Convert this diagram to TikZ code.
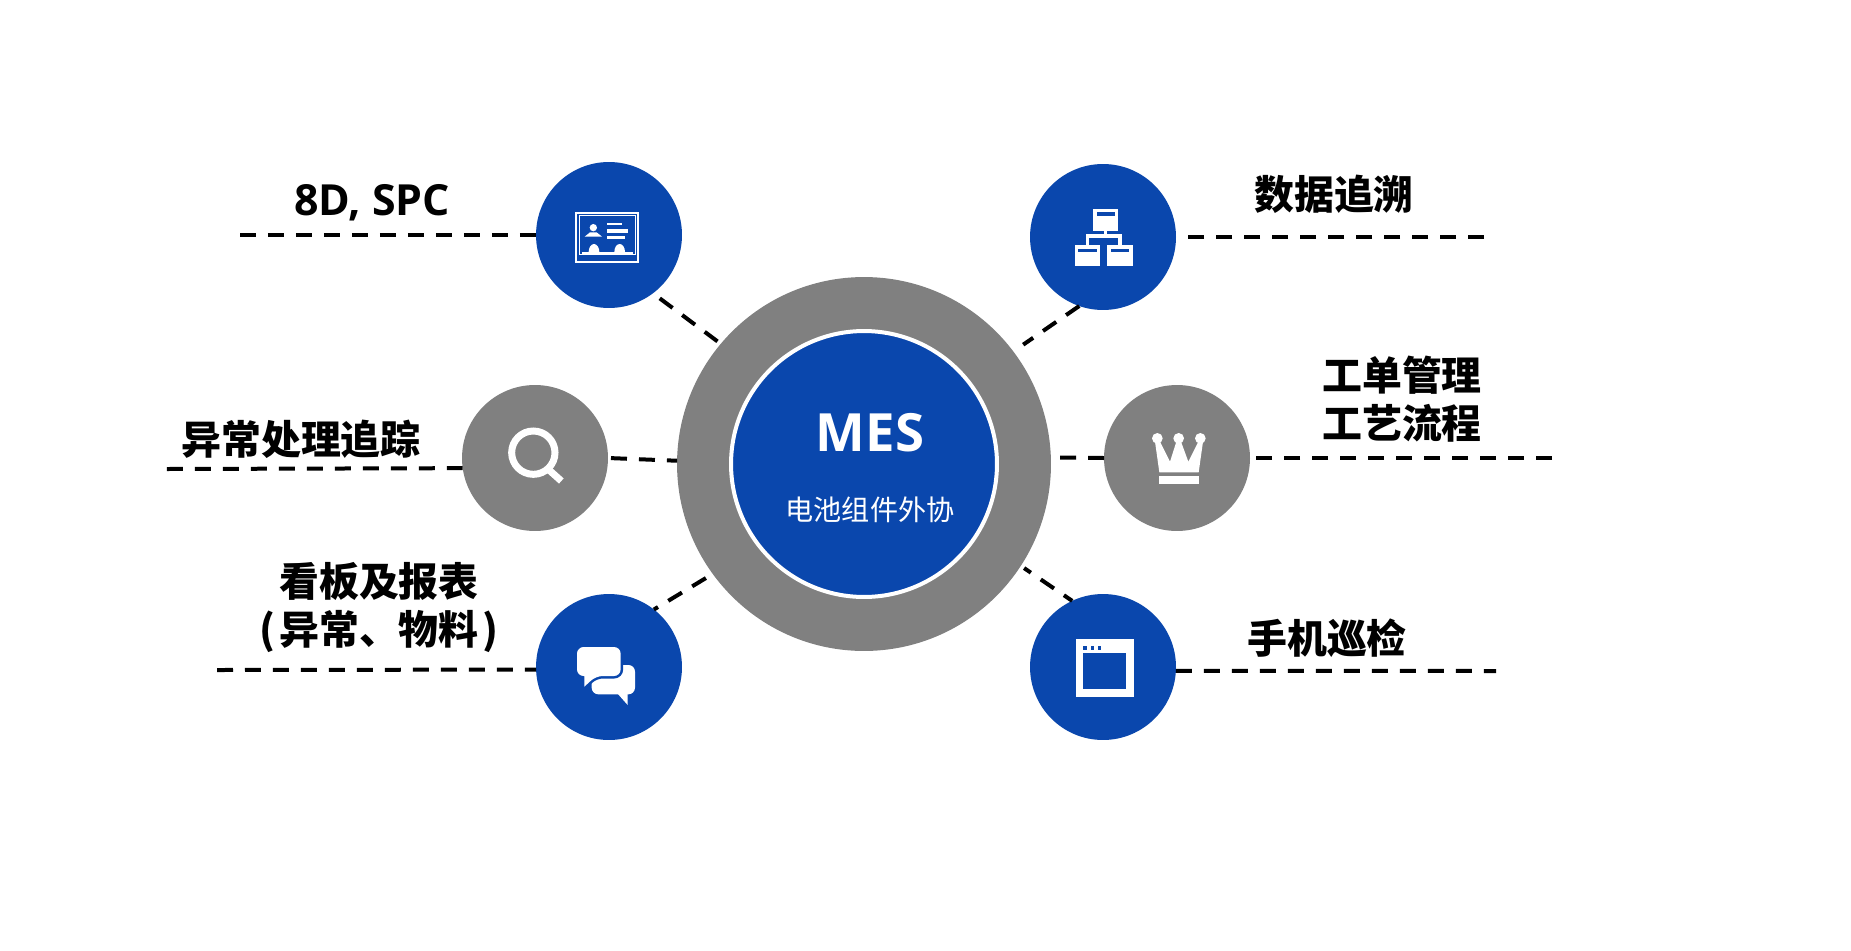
\documentclass[tikz,border=0pt]{standalone}
\usepackage{fontspec}
\newfontfamily\cjkfont{Noto Sans CJK SC}
\newfontfamily\latinfont{Open Sans}
\definecolor{mesblue}{HTML}{0A47AD}
\definecolor{mesgray}{HTML}{808080}
\begin{document}
\begin{tikzpicture}[x=0.02cm,y=-0.02cm,
	disc/.style={circle,inner sep=0pt,outer sep=0pt,minimum size=2.92cm},
	dashline/.style={line width=0.08cm,dash pattern=on 0.32cm off 0.24cm},
	title/.style={font=\fontsize{22.7}{27.3}\selectfont\cjkfont\bfseries,align=center,text=black},
	crop/.style={shift={#1},x=0.02cm/3,y=-0.02cm/3,fill=white}]
	  \useasboundingbox (0,0) rectangle (1851,950);
	  \fill[white] (0,0) rectangle (1851,950);
	  \node[circle,fill=mesgray,inner sep=0pt,outer sep=0pt,minimum size=7.48cm] (ring) at (864,464) {};
	  \node[circle,fill=mesblue,draw=white,line width=0.08cm,inner sep=0pt,outer sep=0pt,minimum size=5.32cm] (hub) at (864,464) {};
	  \node[disc,fill=mesblue] (card) at (609,235) {};
	  \node[disc,fill=mesblue] (org) at (1103,237) {};
	  \node[disc,fill=mesgray] (search) at (535,458) {};
	  \node[disc,fill=mesgray] (crown) at (1177,458) {};
	  \node[disc,fill=mesblue] (chat) at (609,667) {};
	  \node[disc,fill=mesblue] (window) at (1103,667) {};
	  \coordinate (cardend) at (240,235);
	  \coordinate (orgend) at (1484,237);
	  \coordinate (searchend) at (166.8,469);
	  \coordinate (crownend) at (1552,458);
	  \coordinate (chatend) at (217,670);
	  \coordinate (windowend) at (1496,671);
	  \draw[dashline] (cardend) -- (card.west);
	  \draw[dashline,shorten >=0.04cm] (orgend) -- (org.east);
	  \draw[dashline] (searchend) -- (search.188.67);
	  \draw[dashline] (crownend) -- (crown.east);
	  \draw[dashline] (chatend) -- (chat.182.36);
	  \draw[dashline] (window.-3.14) -- (windowend);
	  \draw[dashline,shorten <=0.17cm,shorten >=0.08cm] (card.-53.3) -- (ring.140.3);
	  \draw[dashline,shorten >=0.24cm] (org.-109) -- (ring.37.2);
	  \draw[dashline,shorten <=0.06cm] (search.0) -- (ring.179);
	  \draw[dashline,shorten >=0.14cm] (crown.west) -- (ring.2);
	  \draw[dashline,shorten <=0.16cm] (ring.-144) -- (chat.52.8);
	  \draw[dashline,dash phase=0.12cm,shorten >=0.08cm] (window.115.5) -- (ring.-33.7);
	  \node[title,font=\fontsize{24.4}{27.3}\selectfont\latinfont\bfseries] (cardlabel) at (372,203) {8D, SPC};
	  \node[title] (orglabel) at (1334,194) {数据追溯};
	  \node[title] (searchlabel) at (301,439) {异常处理追踪};
	  \node[title] (crownlabel) at (1402,399) {工单管理\\工艺流程};
	  \node[title] (chatlabel) at (379,608) {看板及报表\\(\kern2pt 异常、物料\kern2pt)};
	  \node[title] (windowlabel) at (1327,638) {手机巡检};
	  \node[text=white,font=\fontsize{30}{36}\selectfont\latinfont\bfseries] (mes) at (870,433) {MES};
	  \node[text=white,font=\fontsize{16}{18}\selectfont\cjkfont] (sub) at (870,510) {电池组件外协};
	  \begin{scope}[crop={(530,150)}]
	    \draw[white,line width=0.04cm] (137,188) rectangle (325,336);
	    \draw[white,line width=0.02cm] (147,197) rectangle (316,313);
	    \fill (156,306) rectangle (308,314);
	    \fill (176,306) arc (180:360:16 and 24) -- cycle;
	    \fill (253,306) arc (180:360:16 and 24) -- cycle;
	    \fill (190,233) circle (11);
	    \fill (164,260) -- (180,247) -- (200,247) -- (216,260) -- cycle;
	    \fill (232,218) rectangle (275,226);
	    \fill (232,238) rectangle (295,248);
	    \fill (232,258) rectangle (285,268);
	  \end{scope}
	  \begin{scope}[crop={(1020,155)}]
	    \fill (219,162) rectangle (295,227);
	    \fill (252,227) rectangle (262,240);
	    \fill (197,238) rectangle (305,270);
	    \fill[mesblue] (208,248) rectangle (295,270);
	    \fill (165,270) rectangle (241,334);
	    \fill (262,270) rectangle (338,334);
	    \fill[mesblue] (230,172) rectangle (285,184);
	    \fill[mesblue] (175,281) rectangle (231,292);
	    \fill[mesblue] (272,281) rectangle (328,292);
	  \end{scope}
	  \begin{scope}[crop={(460,380)}]
	    \draw[white,line width=0.14cm] (220,218) circle (65);
	    \draw[white,line width=0.14cm] (265,268) -- (304,303);
	  \end{scope}
	  \begin{scope}[crop={(1100,380)}]
	    \fill (172,175) circle (16);
	    \fill (236,175) circle (16);
	    \fill (301,175) circle (16);
	    \fill (165,185) -- (178,277) -- (296,277) -- (309,185) -- (295,185) -- (265,245) -- (243,185) -- (229,185) -- (210,245) -- (180,185) -- cycle;
	    \fill (176,288) rectangle (298,312);
	  \end{scope}
	  \begin{scope}[crop={(530,590)}]
	    \fill[rounded corners=0.133cm] (185,225) rectangle (315,313);
	    \fill (262,310) -- (293,345) -- (293,310) -- cycle;
	    \path[preaction={draw=mesblue,line width=0.1cm},fill=white,rounded corners=0.133cm] (141,171) -- (272,171) -- (272,258) -- (198,258) [sharp corners] -- (163,290) -- (163,258) [rounded corners=0.133cm] -- (141,258) -- cycle;
	  \end{scope}
	  \begin{scope}[crop={(1020,590)}]
	    \fill (168,147) rectangle (341,320);
	    \fill[mesblue] (190,190) rectangle (319,298);
	    \fill[mesblue] (190,169) rectangle (201,180);
	    \fill[mesblue] (212,169) rectangle (223,180);
	    \fill[mesblue] (233,169) rectangle (244,180);
	  \end{scope}
	\end{tikzpicture}
\end{document}
